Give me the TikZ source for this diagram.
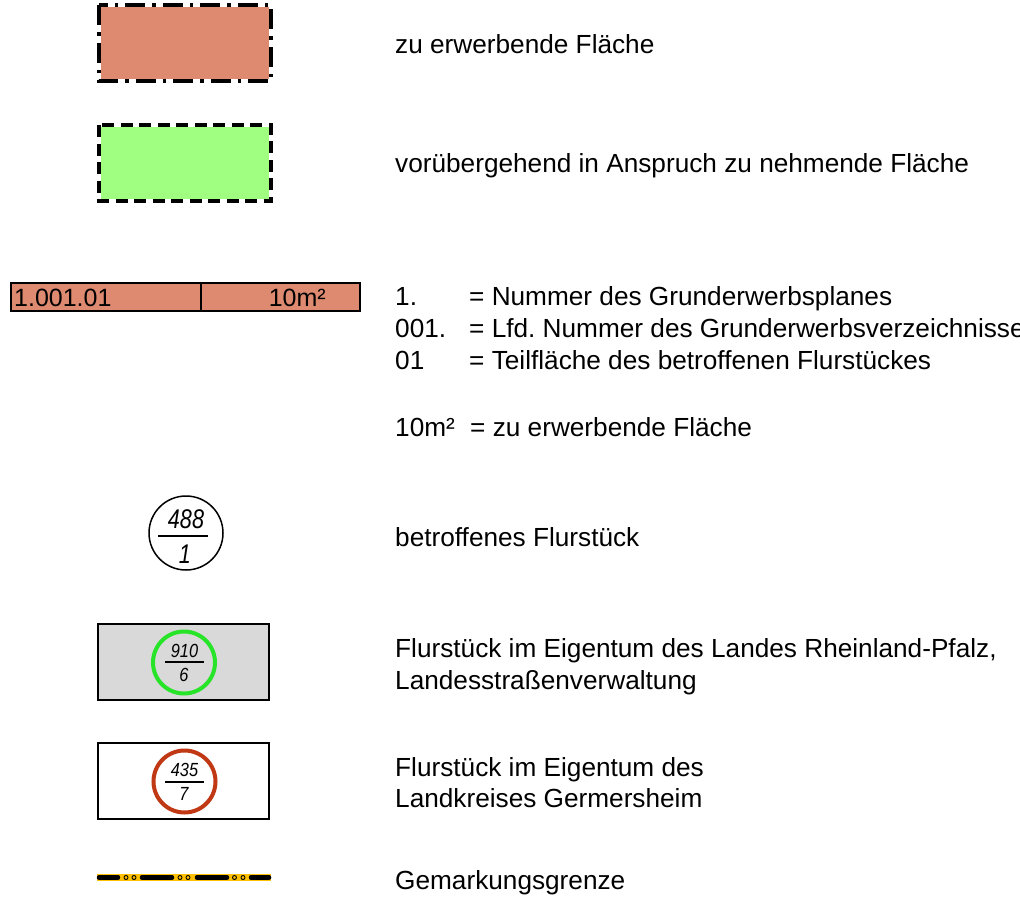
\documentclass[tikz,border=0pt]{standalone}
\usepackage{fontspec}
\setmainfont{Liberation Sans}
\usepackage{graphicx}
\frenchspacing
\definecolor{salmon}{RGB}{222,138,112}
\definecolor{lgreen}{RGB}{160,255,128}
\definecolor{lgray}{RGB}{217,217,217}
\definecolor{ringgreen}{RGB}{40,228,40}
\definecolor{ringred}{RGB}{192,56,20}
\definecolor{gmyellow}{RGB}{255,192,0}
\tikzset{
  txt/.style={anchor=base west, inner sep=0pt, font=\fontsize{26.2}{32}\selectfont},
  bartxt/.style={anchor=base west, inner sep=0pt, font=\fontsize{25}{30}\selectfont},
  dashdotbox/.style={draw=black, line width=3.2pt,
     dash pattern=on 20pt off 7pt on 3.5pt off 7pt},
  dashbox/.style={draw=black, line width=3.2pt,
     dash pattern=on 12pt off 6.5pt},
  ownbox/.style={draw=black, line width=1.8pt},
  ring/.style={line width=4pt},
  numbig/.style={inner sep=0pt, font=\fontsize{27}{30}\selectfont\itshape},
  numsmall/.style={inner sep=0pt, font=\fontsize{19}{22}\selectfont\itshape},
  fracline/.style={draw=black, line width=1.2pt},
}
\begin{document}
\begin{tikzpicture}[x=1pt,y=-1pt]
\useasboundingbox (0,0) rectangle (1020,910);

% row 1
\fill[salmon] (101,7) rectangle (269,79);
\path[dashdotbox] (99,5) rectangle (271,81);
\node[txt] (t1) at (395,53) {zu erwerbende Fläche};

% row 2
\fill[lgreen] (101,127) rectangle (269,199);
\path[dashbox] (99,125) rectangle (271,201);
\node[txt] (t2) at (395,172) {vorübergehend in Anspruch zu nehmende Fläche};

% row 3 bar
\draw[fill=salmon, line width=1.8pt] (11,283) rectangle (360,311);
\draw[line width=1.5pt] (201,283) -- (201,311);
\node[bartxt] (b1) at (14,306) {1.001.01};
\node[bartxt, anchor=base east] (b2) at (326,306) {10m²};

\node[txt] (l1a) at (395,305) {1.};
\node[txt] (l1b) at (469,305) {= Nummer des Grunderwerbsplanes};
\node[txt] (l2a) at (395,337) {001.};
\node[txt] (l2b) at (469,337) {= Lfd. Nummer des Grunderwerbsverzeichnisse};
\node[txt] (l3a) at (395,369) {01};
\node[txt] (l3b) at (469,369) {= Teilfläche des betroffenen Flurstückes};
\node[txt] (l4a) at (395,436) {10m²};
\node[txt] (l4b) at (470,436) {= zu erwerbende Fläche};

% row 4 circle
\draw[line width=1.5pt] (186,533) circle[radius=37];
\draw[fracline] (158,536) -- (208,536);
\node[numbig] (n1) at (186,519.5) {\scalebox{0.8}[1]{488}};
\node[numbig] (n2) at (185,554) {\scalebox{0.8}[1]{1}};
\node[txt] (t4) at (395,546) {betroffenes Flurstück};

% row 5 grey box
\draw[ownbox, fill=lgray] (98,624) rectangle (269,700);
\draw[ring, draw=ringgreen] (184,662.5) circle[radius=31];
\draw[fracline] (165,662) -- (204,662);
\node[numsmall] (n3) at (184.5,651) {\scalebox{0.86}[1]{910}};
\node[numsmall] (n4) at (184,674.5) {\scalebox{0.86}[1]{6}};
\node[txt] (t5a) at (395,657) {Flurstück im Eigentum des Landes Rheinland-Pfalz,};
\node[txt] (t5b) at (395,689) {Landesstraßenverwaltung};

% row 6 white box
\draw[ownbox, fill=white] (98,743) rectangle (269,819);
\draw[ring, draw=ringred] (184.5,781.5) circle[radius=31];
\draw[fracline] (165,782) -- (204,782);
\node[numsmall] (n5) at (184.5,770) {\scalebox{0.86}[1]{435}};
\node[numsmall] (n6) at (184,794) {\scalebox{0.86}[1]{7}};
\node[txt] (t6a) at (395,776) {Flurstück im Eigentum des};
\node[txt] (t6b) at (395,807) {Landkreises Germersheim};

% row 7 Gemarkungsgrenze
\draw[gmyellow, line width=6.5pt] (97,877.5) -- (271,877.5);
\foreach \a/\b in {99/118, 142/172, 197/227, 251/269}
  \draw[black, line width=4.5pt, line cap=round] (\a,877.5) -- (\b,877.5);
\foreach \c in {126,134,180,188,234.5,243}
  \draw[black, line width=0.9pt, fill=gmyellow] (\c,877.5) circle[radius=2];
\node[txt] (t7) at (395,889) {Gemarkungsgrenze};
\end{tikzpicture}
\end{document}
